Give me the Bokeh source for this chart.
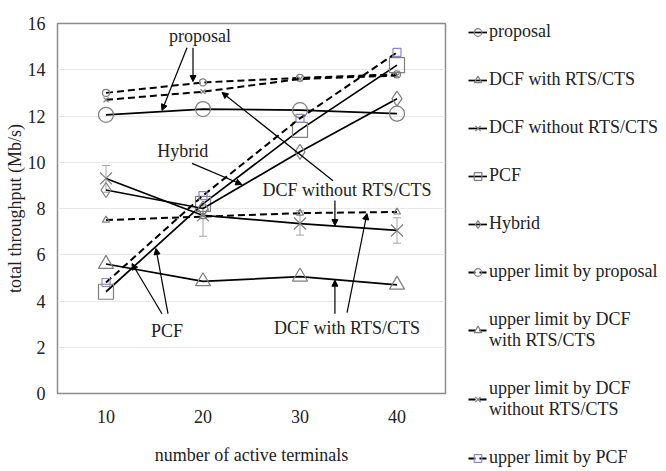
from bokeh.plotting import figure
from bokeh.models import (Range1d, FixedTicker, Whisker, ColumnDataSource, Arrow,
                          NormalHead, Label, Legend, LegendItem)
from bokeh.embed import file_html
from bokeh.resources import INLINE

# ---- data ----
terminals = [10, 20, 30, 40]
proposal = [12.05, 12.3, 12.25, 12.1]
dcf_rts = [5.6, 4.85, 5.05, 4.7]
dcf_no_rts = [9.3, 7.7, 7.35, 7.05]
dcf_no_rts_hi = [9.86, 8.15, 7.9, 7.6]
dcf_no_rts_lo = [8.7, 6.8, 6.85, 6.5]
pcf = [4.4, 8.2, 11.4, 14.2]
hybrid = [8.8, 8.0, 10.45, 12.75]
ul_proposal = [13.0, 13.45, 13.65, 13.8]
ul_dcf_rts = [7.5, 7.65, 7.8, 7.85]
ul_dcf_no_rts = [12.7, 13.05, 13.6, 13.75]
ul_pcf = [4.8, 8.56, 11.9, 14.75]
y_ticks = [0, 2, 4, 6, 8, 10, 12, 14, 16]

FONT = "Liberation Serif"
FS = "18px"
GRAY = "#7f7f7f"
TXT = "#222222"

p = figure(frame_width=388, frame_height=370, output_backend="svg", toolbar_location=None,
           x_range=Range1d(5, 45), y_range=Range1d(0, 16),
           min_border_left=57, min_border_right=219, min_border_top=23, min_border_bottom=76)

p.xaxis.ticker = FixedTicker(ticks=terminals)
p.yaxis.ticker = FixedTicker(ticks=y_ticks)
p.xgrid.grid_line_color = None
p.ygrid.grid_line_color = "#e8e8e8"
p.outline_line_color = "#8c8c8c"
p.outline_line_width = 1.5
for ax in (p.xaxis[0], p.yaxis[0]):
    ax.axis_line_color = None
    ax.major_tick_line_color = None
    ax.minor_tick_line_color = None
    ax.major_tick_out = 0
    ax.major_label_text_font = FONT
    ax.major_label_text_font_size = FS
    ax.major_label_text_color = TXT
    ax.axis_label_text_font = FONT
    ax.axis_label_text_font_size = FS
    ax.axis_label_text_font_style = "normal"
    ax.axis_label_text_color = TXT
p.xaxis.axis_label = "number of active terminals"
p.yaxis.axis_label = "total throughput (Mb/s)"
p.xaxis.major_label_standoff = 16
p.xaxis.axis_label_standoff = 19
p.yaxis.major_label_standoff = 12
p.yaxis.axis_label_standoff = 0

DASH = "7 4"

def series(vals, marker, size, mcolor, dashed):
    lr = p.line(terminals, vals, line_color="black", line_width=2 if dashed else 1.7,
                line_dash=DASH if dashed else "solid")
    sr = p.scatter(terminals, vals, marker=marker, size=size, fill_color=None,
                   line_color=mcolor, line_width=1.2)
    return [lr, sr]

# error bars on DCF without RTS/CTS
err_src = ColumnDataSource(dict(x=terminals, lo=dcf_no_rts_lo, hi=dcf_no_rts_hi))
wh = Whisker(source=err_src, base="x", lower="lo", upper="hi", line_color="#a6a6a6", line_width=1)
wh.upper_head.line_color = "#a6a6a6"
wh.lower_head.line_color = "#a6a6a6"
wh.upper_head.size = 8
wh.lower_head.size = 8
p.add_layout(wh)

r_prop = series(proposal, "circle", 15, GRAY, False)
r_dcf = series(dcf_rts, "triangle", 15, GRAY, False)
r_dcfno = series(dcf_no_rts, "x", 17, GRAY, False)
r_pcf = series(pcf, "square", 15, GRAY, False)
r_hyb = series(hybrid, "diamond", 15, GRAY, False)
r_ulp = series(ul_proposal, "circle", 7, GRAY, True)
r_uld = series(ul_dcf_rts, "triangle", 7, GRAY, True)
r_uldn = series(ul_dcf_no_rts, "x", 7, GRAY, True)
r_ulpcf = series(ul_pcf, "square", 8, "#8f86c9", True)

# ---- annotations ----
def label(x, y, t):
    p.add_layout(Label(x=x, y=y, text=t, text_align="center", text_baseline="middle",
                       text_font=FONT, text_font_size=FS, text_color=TXT))

def arrow(x0, y0, x1, y1):
    p.add_layout(Arrow(end=NormalHead(size=6, fill_color="black", line_color="black"),
                       x_start=x0, y_start=y0, x_end=x1, y_end=y1,
                       line_color="black", line_width=1.2))

label(19.7, 15.45, "proposal")
arrow(18.35, 14.95, 15.77, 12.24)
arrow(18.97, 14.95, 18.97, 13.49)

label(17.9, 10.5, "Hybrid")
arrow(18.87, 9.95, 24.0, 9.04)

label(34.85, 8.8, "DCF without RTS/CTS")
arrow(33.4, 9.2, 21.96, 13.02)
arrow(33.6, 8.35, 33.6, 7.26)

label(34.85, 2.85, "DCF with RTS/CTS")
arrow(33.6, 3.45, 33.6, 4.9)
arrow(34.85, 3.5, 36.9, 7.78)

label(16.3, 2.7, "PCF")
arrow(15.77, 3.45, 12.68, 5.62)
arrow(16.39, 3.45, 15.15, 6.27)

# ---- legend ----
items = [
    LegendItem(label="proposal", renderers=r_prop),
    LegendItem(label="DCF with RTS/CTS", renderers=r_dcf),
    LegendItem(label="DCF without RTS/CTS", renderers=r_dcfno),
    LegendItem(label="PCF", renderers=r_pcf),
    LegendItem(label="Hybrid", renderers=r_hyb),
    LegendItem(label="upper limit by proposal", renderers=r_ulp),
    LegendItem(label="upper limit by DCF\nwith RTS/CTS", renderers=r_uld),
    LegendItem(label="upper limit by DCF\nwithout RTS/CTS", renderers=r_uldn),
    LegendItem(label="upper limit by PCF", renderers=r_ulpcf),
]
leg = Legend(items=items, location=(23, -75), padding=0, margin=0,
             border_line_color=None, background_fill_alpha=0,
             glyph_width=19, glyph_height=20, label_standoff=2, spacing=27,
             label_text_font=FONT, label_text_font_size=FS, label_text_color=TXT)
p.add_layout(leg, "right")

open("out.html", "w").write(file_html(p, INLINE))
